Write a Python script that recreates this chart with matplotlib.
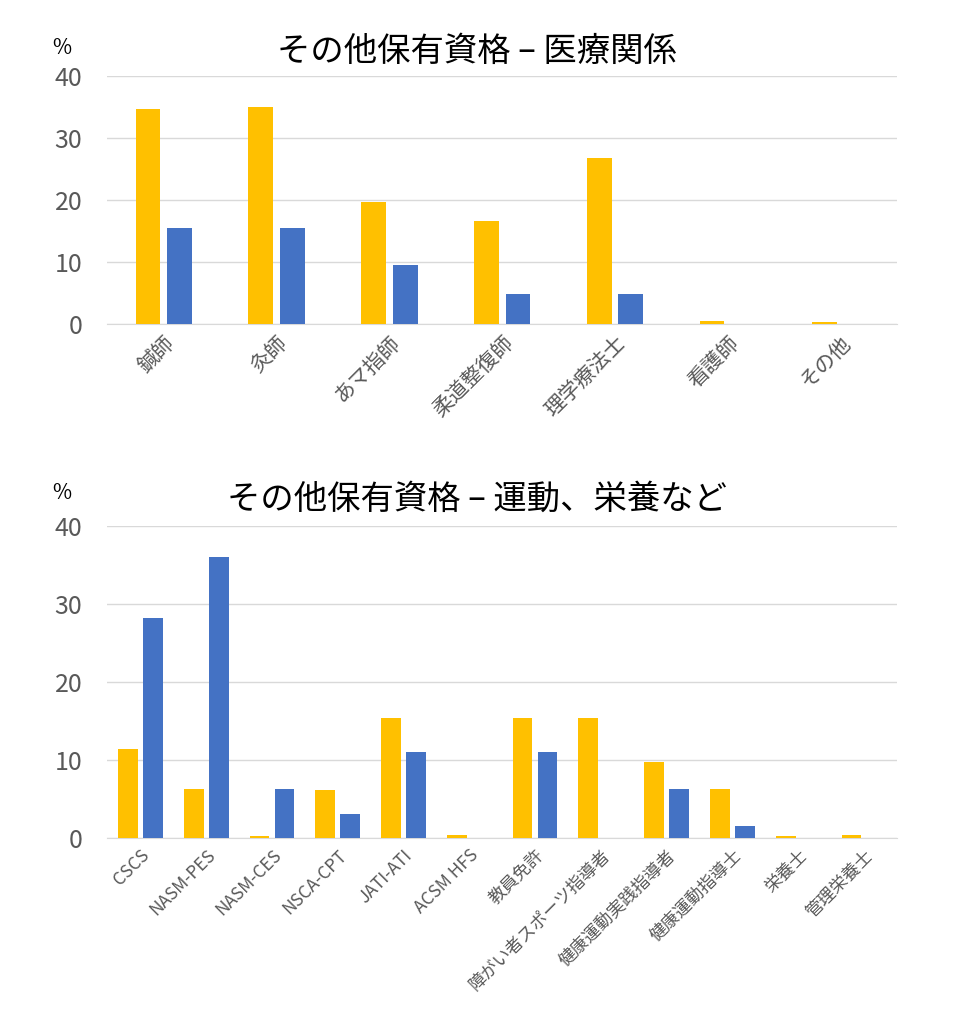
import matplotlib
matplotlib.use("Agg")
import matplotlib.pyplot as plt
import numpy as np

plt.rcParams['font.family'] = ['Noto Sans CJK JP']

cats1 = ["鍼師", "灸師", "あマ指師", "柔道整復師", "理学療法士", "看護師", "その他"]
orange1 = [34.6, 35.0, 19.7, 16.6, 26.7, 0.4, 0.3]
blue1 = [15.5, 15.5, 9.4, 4.8, 4.8, 0.0, 0.0]

cats2 = ["CSCS", "NASM-PES", "NASM-CES", "NSCA-CPT", "JATI-ATI", "ACSM HFS", "教員免許",
         "障がい者スポーツ指導者", "健康運動実践指導者", "健康運動指導士", "栄養士", "管理栄養士"]
orange2 = [11.4, 6.3, 0.2, 6.2, 15.4, 0.4, 15.4, 15.4, 9.8, 6.3, 0.2, 0.4]
blue2 = [28.2, 36.0, 6.3, 3.1, 11.0, 0.0, 11.0, 0.0, 6.3, 1.6, 0.0, 0.0]

OR = "#FFC000"; BL = "#4472C4"; GR = "#595959"

fig = plt.figure(figsize=(9.77, 10.27), dpi=100)

def draw(ax, cats, o, b, w, off, title, xfs):
    x = np.arange(len(cats))
    ax.bar(x - off, o, w, color=OR, zorder=3)
    ax.bar(x + off, b, w, color=BL, zorder=3)
    ax.set_ylim(0, 40)
    ax.set_yticks([0, 10, 20, 30, 40])
    ax.set_xlim(-0.5, len(cats) - 0.5)
    ax.grid(axis='y', color="#D9D9D9", lw=1, zorder=0)
    for s in ['top', 'right', 'left']:
        ax.spines[s].set_visible(False)
    ax.spines['bottom'].set_color("#D9D9D9")
    ax.tick_params(axis='y', length=0, labelsize=18, labelcolor=GR, pad=18)
    ax.tick_params(axis='x', length=0, labelcolor=GR, pad=6)
    ax.set_xticks(x)
    ax.set_xticklabels(cats, rotation=45, ha='right', rotation_mode='anchor', fontsize=xfs)
    ax.text(0.468, 1.03, title, transform=ax.transAxes, fontsize=24, ha='center', va='bottom')
    ax.text(-0.058, 1.07, "%", transform=ax.transAxes, fontsize=15, ha='center', va='bottom')

ax1 = fig.add_axes([0.11, 0.685, 0.808, 0.241])
draw(ax1, cats1, orange1, blue1, 0.22, 0.14, "その他保有資格 – 医療関係", 15)
ax2 = fig.add_axes([0.11, 0.184, 0.808, 0.304])
draw(ax2, cats2, orange2, blue2, 0.3, 0.19, "その他保有資格 – 運動、栄養など", 12.5)

fig.savefig("out.png", dpi=100)
